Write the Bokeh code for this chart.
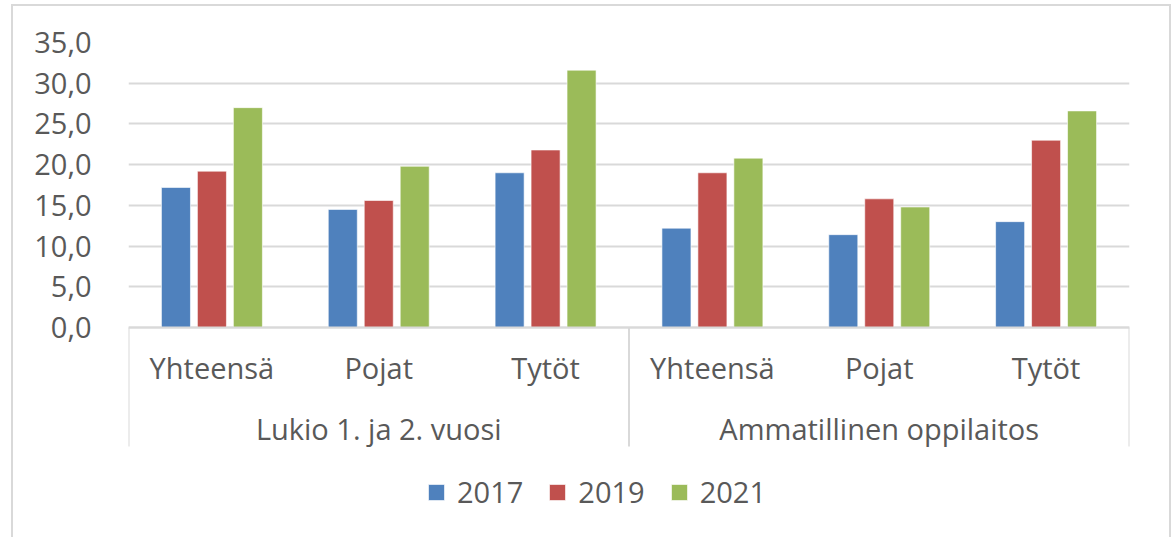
from bokeh.plotting import figure
from bokeh.models import (FactorRange, Range1d, FixedTicker, Legend, LegendItem,
                          ColumnDataSource)
from bokeh.core.properties import value
from bokeh.transform import dodge
from bokeh.embed import file_html
from bokeh.resources import INLINE

groups = ["Lukio 1. ja 2. vuosi", "Ammatillinen oppilaitos"]
subgroups = ["Yhteensä", "Pojat", "Tytöt"]
years = ["2017", "2019", "2021"]
v2017 = [17.2, 14.5, 19.0, 12.2, 11.4, 13.0]
v2019 = [19.2, 15.6, 21.8, 19.0, 15.8, 23.0]
v2021 = [27.0, 19.8, 31.6, 20.8, 14.8, 26.6]
colors = ["#4F81BD", "#C0504D", "#9BBB59"]
y_ticks = [0, 5, 10, 15, 20, 25, 30, 35]
y_tick_labels = ["0,0", "5,0", "10,0", "15,0", "20,0", "25,0", "30,0", "35,0"]

FONT = "Open Sans"
TXT = "#595959"
GRID = "#d9d9d9"
FS = "29px"

factors = [(g, s) for g in groups for s in subgroups]
source = ColumnDataSource(data=dict(cat=factors, y2017=v2017, y2019=v2019, y2021=v2021))

x_range = FactorRange(*factors, factor_padding=0, group_padding=0,
                      subgroup_padding=0, range_padding=0)

# frame: top at 35.0, bottom extends below zero to hold the category labels and legend
px_per_unit = (327 - 42) / 35.0
y_low = -(537 - 327) / px_per_unit

p = figure(x_range=x_range, y_range=Range1d(y_low, 35), width=1172, height=537,
           output_backend="svg", toolbar_location=None,
           min_border_left=128, min_border_right=43, min_border_top=42,
           min_border_bottom=0)
p.outline_line_color = None
p.border_fill_color = None
p.background_fill_color = None
p.styles = {
    "background-image": "linear-gradient(#d9d9d9,#d9d9d9), linear-gradient(#d9d9d9,#d9d9d9), linear-gradient(#d9d9d9,#d9d9d9)",
    "background-size": "2px 540px, 1160px 2px, 2px 540px",
    "background-position": "11px 4px, 11px 4px, 1169px 4px",
    "background-repeat": "no-repeat",
}

offsets = [-0.2156, 0.0, 0.2156]
renderers = []
for yr, col, off in zip(years, colors, offsets):
    r = p.vbar(x=dodge("cat", off, range=p.x_range), top="y" + yr, width=0.174,
               source=source, fill_color=col, line_color="white", line_alpha=0.6,
               line_width=1)
    renderers.append(r)

# y axis
p.yaxis.ticker = FixedTicker(ticks=y_ticks)
p.yaxis.major_label_overrides = {t: l for t, l in zip(y_ticks, y_tick_labels)}
p.yaxis.axis_line_color = None
p.yaxis.major_tick_line_color = None
p.yaxis.minor_tick_line_color = None
p.yaxis.major_label_standoff = 31
p.yaxis.major_label_text_font = FONT
p.yaxis.major_label_text_font_size = FS
p.yaxis.major_label_text_color = TXT

p.ygrid.ticker = FixedTicker(ticks=y_ticks)
p.ygrid.grid_line_color = GRID
p.ygrid.grid_line_width = 2
p.xgrid.grid_line_color = None

# x axis, fixed at zero inside the frame
p.xaxis.fixed_location = 0
p.xaxis.axis_line_color = GRID
p.xaxis.axis_line_width = 2
p.xaxis.major_tick_line_color = None
p.xaxis.major_tick_out = 0
p.xaxis.major_tick_in = 0
p.xaxis.major_label_standoff = 20
p.xaxis.major_label_text_font = FONT
p.xaxis.major_label_text_font_size = FS
p.xaxis.major_label_text_color = TXT
p.xaxis.group_text_color = None
p.xaxis.separator_line_color = None

# group separators below the axis
p.segment(x0=[0, 3, 6], y0=[0, 0, 0], x1=[0, 3, 6], y1=[-14.6, -14.6, -14.6],
          line_color=GRID, line_width=2)

# group labels
p.text(x=groups, y=[-12.4, -12.4], text=groups, text_align="center",
       text_baseline="middle", text_font=value(FONT), text_font_size=value(FS),
       text_color=TXT)

legend = Legend(items=[LegendItem(label=yr, renderers=[r]) for yr, r in zip(years, renderers)],
                orientation="horizontal", location=(298, 26),
                spacing=24, glyph_width=20, glyph_height=20, label_standoff=11,
                padding=0, margin=0, border_line_color=None, background_fill_alpha=0,
                label_text_font=FONT, label_text_font_size=FS, label_text_color=TXT)
p.add_layout(legend, "center")

open("out.html", "w").write(file_html(p, INLINE))
